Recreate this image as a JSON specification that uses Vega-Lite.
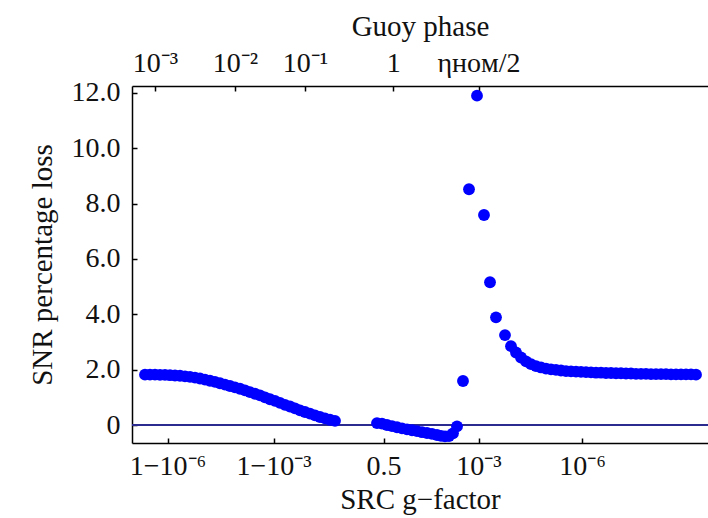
{
  "$schema": "https://vega.github.io/schema/vega-lite/v6.json",
  "width": 576,
  "height": 357,
  "autosize": {"type": "none"},
  "padding": {"left": 132, "top": 86, "right": 0, "bottom": 75},
  "background": "white",
  "view": {"stroke": null},
  "config": {
    "font": "Liberation Serif",
    "axis": {
      "labelFont": "Liberation Serif",
      "labelFontSize": 28,
      "labelColor": "#111111",
      "titleFont": "Liberation Serif",
      "titleFontSize": 29,
      "titleFontWeight": "normal",
      "titleColor": "#111111",
      "domainColor": "#000000",
      "domainWidth": 1.5,
      "tickColor": "#000000",
      "tickWidth": 1.5,
      "grid": false,
      "labelFlush": false,
      "labelOverlap": false,
      "labelBound": false
    }
  },
  "datasets": {
    "pts": [
      {"g": 13, "loss": 1.82}, {"g": 18, "loss": 1.82}, {"g": 23, "loss": 1.82}, {"g": 28, "loss": 1.81},
      {"g": 33, "loss": 1.81}, {"g": 38, "loss": 1.80}, {"g": 43, "loss": 1.79}, {"g": 48, "loss": 1.78},
      {"g": 53, "loss": 1.76}, {"g": 58, "loss": 1.74}, {"g": 63, "loss": 1.71}, {"g": 68, "loss": 1.68},
      {"g": 73, "loss": 1.64}, {"g": 78, "loss": 1.60}, {"g": 83, "loss": 1.56}, {"g": 88, "loss": 1.51},
      {"g": 93, "loss": 1.46}, {"g": 98, "loss": 1.41}, {"g": 103, "loss": 1.36}, {"g": 108, "loss": 1.31},
      {"g": 113, "loss": 1.25}, {"g": 118, "loss": 1.19}, {"g": 123, "loss": 1.13}, {"g": 128, "loss": 1.07},
      {"g": 133, "loss": 1.00}, {"g": 138, "loss": 0.93}, {"g": 143, "loss": 0.87}, {"g": 148, "loss": 0.80},
      {"g": 153, "loss": 0.73}, {"g": 158, "loss": 0.67}, {"g": 163, "loss": 0.60}, {"g": 168, "loss": 0.53},
      {"g": 173, "loss": 0.47}, {"g": 178, "loss": 0.41}, {"g": 183, "loss": 0.35}, {"g": 188, "loss": 0.29},
      {"g": 193, "loss": 0.24}, {"g": 198, "loss": 0.19}, {"g": 203, "loss": 0.15},
      {"g": 245, "loss": 0.07}, {"g": 250, "loss": 0.05}, {"g": 255, "loss": 0.0}, {"g": 260, "loss": -0.04},
      {"g": 265, "loss": -0.08}, {"g": 270, "loss": -0.12}, {"g": 275, "loss": -0.16}, {"g": 280, "loss": -0.19},
      {"g": 285, "loss": -0.22}, {"g": 290, "loss": -0.26}, {"g": 295, "loss": -0.29}, {"g": 300, "loss": -0.32},
      {"g": 305, "loss": -0.36}, {"g": 309, "loss": -0.39}, {"g": 313, "loss": -0.41}, {"g": 317, "loss": -0.40},
      {"g": 321, "loss": -0.30}, {"g": 325, "loss": -0.05},
      {"g": 331, "loss": 1.59}, {"g": 337, "loss": 8.52}, {"g": 345, "loss": 11.9}, {"g": 352, "loss": 7.59},
      {"g": 358, "loss": 5.16}, {"g": 364, "loss": 3.89}, {"g": 373, "loss": 3.25}, {"g": 379, "loss": 2.85},
      {"g": 384, "loss": 2.62}, {"g": 389, "loss": 2.44}, {"g": 394, "loss": 2.30}, {"g": 399, "loss": 2.20},
      {"g": 404, "loss": 2.13}, {"g": 409, "loss": 2.08}, {"g": 414, "loss": 2.04}, {"g": 419, "loss": 2.01},
      {"g": 424, "loss": 1.99}, {"g": 429, "loss": 1.97}, {"g": 434, "loss": 1.95}, {"g": 439, "loss": 1.94},
      {"g": 444, "loss": 1.93}, {"g": 449, "loss": 1.92}, {"g": 454, "loss": 1.91}, {"g": 459, "loss": 1.90},
      {"g": 464, "loss": 1.89}, {"g": 469, "loss": 1.89}, {"g": 474, "loss": 1.88}, {"g": 479, "loss": 1.88},
      {"g": 484, "loss": 1.87}, {"g": 489, "loss": 1.87}, {"g": 494, "loss": 1.86}, {"g": 499, "loss": 1.86},
      {"g": 504, "loss": 1.85}, {"g": 509, "loss": 1.85}, {"g": 514, "loss": 1.85}, {"g": 519, "loss": 1.84},
      {"g": 524, "loss": 1.84}, {"g": 529, "loss": 1.84}, {"g": 534, "loss": 1.84}, {"g": 539, "loss": 1.83},
      {"g": 544, "loss": 1.83}, {"g": 549, "loss": 1.83}, {"g": 554, "loss": 1.83}, {"g": 559, "loss": 1.83},
      {"g": 564, "loss": 1.82}
    ],
    "zero": [{"level": 0}]
  },
  "resolve": {"axis": {"x": "independent"}},
  "layer": [
    {
      "data": {"name": "zero"},
      "mark": {"type": "rule", "color": "#2a2a8f", "strokeWidth": 2},
      "encoding": {"y": {"field": "level", "type": "quantitative"}}
    },
    {
      "data": {"name": "pts"},
      "mark": {"type": "point", "shape": "circle", "filled": true, "size": 140, "color": "#0000ff", "opacity": 1},
      "encoding": {
        "x": {
          "field": "g", "type": "quantitative",
          "scale": {"domain": [0, 576], "nice": false, "zero": false},
          "axis": {
            "orient": "bottom",
            "title": "SRC g−factor",
            "values": [35.5, 141.5, 251.5, 346.5, 450],
            "labelExpr": "datum.value == 35.5 ? '1−10⁻⁶' : datum.value == 141.5 ? '1−10⁻³' : datum.value == 251.5 ? '0.5' : datum.value == 346.5 ? '10⁻³' : '10⁻⁶'",
            "tickSize": -5,
            "labelPadding": 14,
            "titlePadding": 5
          }
        },
        "y": {
          "field": "loss", "type": "quantitative",
          "scale": {"domain": [-0.65, 12.25], "nice": false, "zero": false},
          "axis": {
            "title": "SNR percentage loss",
            "values": [0, 2, 4, 6, 8, 10, 12],
            "labelExpr": "datum.value == 0 ? '0' : format(datum.value, '.1f')",
            "tickSize": -5,
            "labelPadding": 17,
            "titlePadding": 14
          }
        }
      }
    },
    {
      "data": {"name": "pts"},
      "mark": {"type": "point", "opacity": 0},
      "encoding": {
        "x": {
          "field": "g", "type": "quantitative",
          "scale": {"domain": [0, 576], "nice": false, "zero": false},
          "axis": {
            "orient": "top",
            "title": "Guoy phase",
            "values": [23, 103, 173, 261.3, 346.5],
            "labelExpr": "datum.value == 23 ? '10⁻³' : datum.value == 103 ? '10⁻²' : datum.value == 173 ? '10⁻¹' : datum.value == 261.3 ? '1' : 'ηʜᴏᴍ/2'",
            "tickSize": -5,
            "labelPadding": 14,
            "titlePadding": 8
          }
        },
        "y": {"field": "loss", "type": "quantitative"}
      }
    }
  ]
}
